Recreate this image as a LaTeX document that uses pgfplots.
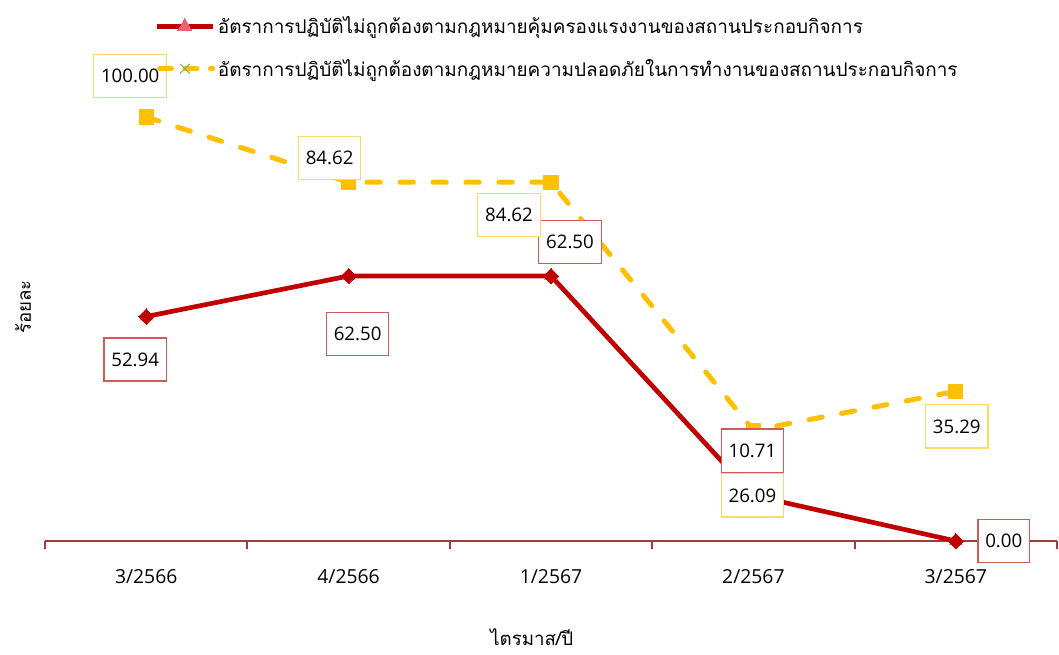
\documentclass[border=0pt]{standalone}
\usepackage{fontspec}
\setmainfont{Open Sans}
\newfontfamily\thai[Script=Thai]{Loma}
\usepackage{pgfplots}
\usepackage{pgfplotstable}
\pgfplotsset{compat=1.18}

\definecolor{redline}{HTML}{C00000}
\definecolor{pinkmark}{HTML}{E46475}
\definecolor{redbox}{HTML}{D05A5A}
\definecolor{yel}{HTML}{FFC000}
\definecolor{yelbox}{HTML}{FFD966}
\definecolor{axred}{HTML}{A33B3B}
\definecolor{grn}{HTML}{64BE6E}

% x, value, label text, label offset (pt)
\pgfplotstableread{
x y lbl dx dy
0 52.94 52.94 -8.25 -32.25
1 62.50 62.50 6.75 -43.5
2 62.50 62.50 14.25 25.5
3 10.71 10.71 -0.75 33.75
4 0.00 0.00 36 0
}\labour
\pgfplotstableread{
x y lbl dx dy
0 100.00 100.00 -12 30.75
1 84.62 84.62 -14.25 18
2 84.62 84.62 -31.5 -24.75
3 26.09 26.09 -0.75 -48.75
4 35.29 35.29 0.75 -26.25
}\safety

\pgfplotsset{
  datalabel/.style={
    only marks, mark=*, mark size=0pt, forget plot,
    visualization depends on={\thisrow{dx} \as \dx},
    visualization depends on={\thisrow{dy} \as \dy},
    point meta=explicit symbolic,
    nodes near coords,
    nodes near coords style={anchor=center, xshift=\dx pt, yshift=\dy pt,
      draw=#1, fill=white, line width=0.9pt, inner xsep=5.5pt, inner ysep=11pt,
      font=\fontsize{14}{17}\selectfont, text=black},
  },
}

\begin{document}
\begin{tikzpicture}
\begin{axis}[
  name=main,
  scale only axis,
  width=759pt, height=318pt,
  xmin=-0.5, xmax=4.5, ymin=0, ymax=100,
  clip=false,
  axis lines*=left,
  axis line style={-},
  x axis line style={axred, line width=1.5pt},
  y axis line style={draw=none},
  ytick=\empty,
  xtick={0,1,2,3,4},
  xticklabels={3/2566,4/2566,1/2567,2/2567,3/2567},
  major tick length=0pt,
  minor xtick={-0.5,0.5,1.5,2.5,3.5,4.5},
  minor tick length=6pt,
  tick align=outside,
  minor tick style={axred, line width=1.5pt},
  xticklabel style={anchor=base, yshift=-32pt},
  ticklabel style={font=\fontsize{14.5}{17}\selectfont},
  xlabel={\thai ไตรมาส/ปี},
  xlabel style={at={(axis description cs:0.481,0)}, anchor=center, yshift=-72pt},
  ylabel={\thai ร้อยละ},
  ylabel style={at={(axis description cs:-0.0217,0.552)}, anchor=center},
  label style={font=\fontsize{14}{17}\selectfont},
  legend style={at={(rel axis cs:0.108,1.243)}, anchor=north west, draw=none, fill=none,
    font=\fontsize{14.2}{17}\selectfont\thai, row sep=13.5pt, inner sep=0pt},
  legend cell align=left,
  legend image code/.code={\draw[mark repeat=2,mark phase=2,#1]
    plot coordinates {(0pt,0pt) (21pt,0pt) (42pt,0pt)};},
]
\addlegendimage{redline, line width=3.5pt, mark=triangle*, mark size=6pt,
  mark options={fill=pinkmark, draw=pinkmark, line width=0pt}}
\addlegendentry{อัตราการปฏิบัติไม่ถูกต้องตามกฎหมายคุ้มครองแรงงานของสถานประกอบกิจการ}
\addlegendimage{yel, line width=3.5pt, line cap=round, dash pattern=on 9pt off 10pt, dash phase=-2pt,
  mark=x, mark size=5pt, mark options={grn, solid, line width=0.8pt}}
\addlegendentry{อัตราการปฏิบัติไม่ถูกต้องตามกฎหมายความปลอดภัยในการทำงานของสถานประกอบกิจการ}

% red series
\addplot[forget plot, only marks, mark=triangle*, mark size=5.5pt, pinkmark]
  table[x=x, y=y] {\labour};
\addplot[forget plot, redline, line width=3.5pt, mark=square*, mark size=4pt,
  mark options={rotate=45, fill=redline, draw=redline, line width=0pt}]
  table[x=x, y=y] {\labour};
% yellow series
\addplot[forget plot, yel, line width=3.75pt, line cap=round, dash pattern=on 10pt off 14.75pt,
  mark=square*, mark size=5.3pt, mark options={solid, fill=yel, draw=yel, line width=0pt}]
  table[x=x, y=y] {\safety};

% data labels
\addplot[datalabel=redbox] table[x=x, y=y, meta=lbl] {\labour};
\addplot[datalabel=yelbox] table[x=x, y=y, meta=lbl] {\safety};
\end{axis}
\pgfresetboundingbox
\path ([xshift=-33.75pt, yshift=-84.75pt]main.south west)
  rectangle ([xshift=1.5pt, yshift=87.75pt]main.north east);
\end{tikzpicture}
\end{document}
